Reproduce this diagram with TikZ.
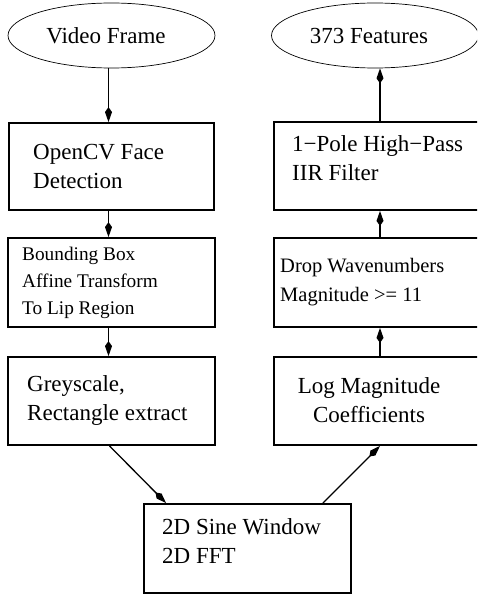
\documentclass[tikz,border=0pt]{standalone}
\usepackage{fontspec}
\setmainfont{Liberation Serif}
\usetikzlibrary{arrows.meta,shapes.geometric,calc}
\tikzset{
  box/.style={draw, line width=1.8pt, rectangle, inner sep=0pt},
  oval/.style={draw, line width=0.7pt, ellipse, inner sep=0pt, minimum width=207pt, minimum height=65pt},
  bigtxt/.style={anchor=west, align=left, inner sep=0pt, font=\fontsize{23}{29}\selectfont},
  smalltxt/.style={anchor=west, align=left, inner sep=0pt, font=\fontsize{19.3}{27}\selectfont},
  midtxt/.style={anchor=west, align=left, inner sep=0pt, font=\fontsize{20.5}{29}\selectfont},
  flow/.style={line width=1.8pt, -{Kite[length=15pt,width=7pt,inset=5pt]}},
  dflow/.style={line width=1.3pt, -{Kite[length=15pt,width=7pt,inset=5pt]}}
}
\begin{document}
\begin{tikzpicture}[x=1pt,y=-1pt]
\useasboundingbox (0,0) rectangle (477,594);
\clip (0,0) rectangle (477,594);
% left column
\node[oval] (vf) at (111.5,35.5) {};
\node[anchor=center, inner sep=0pt, font=\fontsize{23}{29}\selectfont] (vft) at (106,35.5) {Video Frame};
\node[box, minimum width=205pt, minimum height=87pt] (ocv) at (111.5,166.5) {};
\node[bigtxt] (ocvt) at (33,166) {OpenCV Face\\Detection};
\node[box, minimum width=207pt, minimum height=89pt] (bb) at (111.5,282.5) {};
\node[smalltxt] (bbt) at (22,283) {Bounding Box\\Affine Transform\\To Lip Region};
\node[box, minimum width=207pt, minimum height=88pt] (gs) at (111.5,401) {};
\node[bigtxt] (gst) at (27,400) {Greyscale,\\Rectangle extract};
% bottom
\node[box, minimum width=207pt, minimum height=89pt] (sine) at (247.5,548.5) {};
\node[bigtxt] (sinet) at (162,541) {2D Sine Window\\2D FFT};
% right column
\node[oval] (feat) at (375,35.5) {};
\node[anchor=center, inner sep=0pt, font=\fontsize{23}{29}\selectfont] (featt) at (369,35.5) {373 Features};
\node[box, minimum width=212pt, minimum height=88pt] (iir) at (380,166) {};
\node[bigtxt] (iirt) at (292,158.5) {1−Pole High−Pass\\IIR Filter};
\node[box, minimum width=212pt, minimum height=89pt] (drop) at (380,282.5) {};
\node[midtxt] (dropt) at (280,282.5) {Drop Wavenumbers\\Magnitude >= 11};
\node[box, minimum width=212pt, minimum height=88pt] (log) at (380,401) {};
\node[anchor=center, align=center, inner sep=0pt, font=\fontsize{23}{29}\selectfont] (logt) at (369,400) {Log Magnitude\\Coefficients};
% connectors
\draw[flow] ([xshift=-3pt]vf.south) -- ([xshift=-3pt]ocv.north);
\draw[flow] ([xshift=-3pt]ocv.south) -- ([xshift=-3pt]bb.north);
\draw[flow] ([xshift=-3pt]bb.south) -- ([xshift=-3pt]gs.north);
\draw[dflow] ([xshift=-2pt]gs.south) -- ([xshift=23pt]sine.north west);
\draw[dflow] ([xshift=-29pt]sine.north east) -- (log.south);
\draw[flow] (log.north) -- (drop.south);
\draw[flow] (drop.north) -- (iir.south);
\draw[flow] (iir.north) -- (iir.north |- feat.south);
\end{tikzpicture}
\end{document}
